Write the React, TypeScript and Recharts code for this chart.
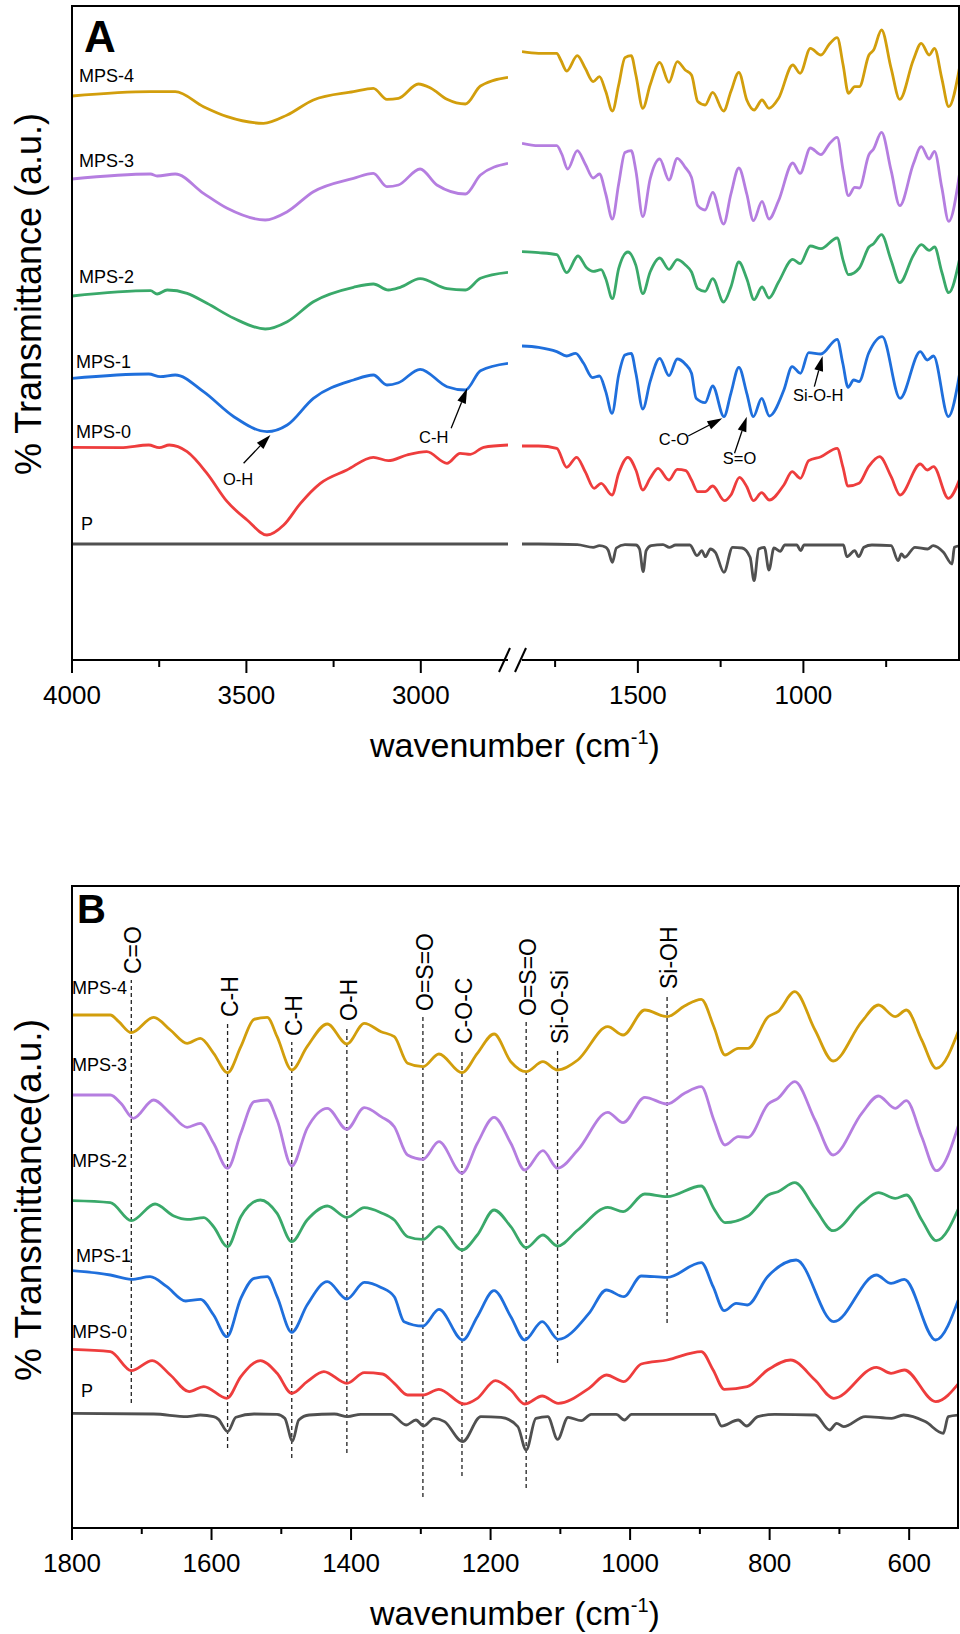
import React from "react";
import { Line, LineChart, ReferenceDot, ReferenceLine, XAxis, YAxis } from "recharts";

const FONT = "'Liberation Sans', Arial, Helvetica, sans-serif";

const sampleNames = ["MPS-4", "MPS-3", "MPS-2", "MPS-1", "MPS-0", "P"];
const sampleColors = ["#d29e0c", "#b57ee0", "#3aa96a", "#1f6fdc", "#ee3d3d", "#505050"];

// 4000-2750 cm-1, panel A only (a.u.)
const mps4High = [
  [4000, 564], [3775, 568.3], [3704, 568.3], [3623, 553.3], [3555, 543.3], [3451, 536.7],
  [3383, 545], [3308, 560], [3193, 568.3], [3136, 571.7], [3097, 560.7], [3064, 561.7],
  [3007, 576], [2972, 572], [2925, 560.7], [2872, 556], [2829, 574], [2750, 582.7],
];
const mps3High = [
  [4000, 481], [3775, 486], [3756, 484], [3704, 486], [3623, 466.7], [3555, 451.7],
  [3446, 440], [3383, 448.3], [3308, 468.3], [3193, 481.7], [3136, 486.7], [3097, 473.3],
  [3064, 475], [3002, 491], [2954, 475], [2872, 466], [2829, 485], [2750, 496.7],
];
const mps2High = [
  [4000, 364], [3775, 369.3], [3756, 366], [3727, 370], [3670, 366.7], [3613, 356.7],
  [3536, 341.7], [3446, 331], [3383, 338.3], [3308, 358.3], [3193, 372.7], [3136, 376],
  [3093, 370], [3059, 372.7], [3002, 381.3], [2925, 371.3], [2872, 370], [2829, 381.7], [2750, 387.7],
];
const mps1High = [
  [4000, 281.7], [3780, 286], [3747, 283.3], [3704, 285], [3623, 268.3], [3536, 243.3],
  [3441, 228.3], [3383, 235], [3308, 261.7], [3193, 280], [3136, 285], [3097, 275],
  [3064, 277.3], [3002, 290.7], [2925, 273.3], [2872, 270], [2829, 289.3], [2750, 296.7],
];
const mps0High = [
  [4000, 212.7], [3861, 212.3], [3780, 215], [3750, 212.3], [3721, 215], [3670, 208.3],
  [3613, 186.7], [3555, 158.3], [3498, 140], [3441, 125], [3393, 135], [3345, 156.7],
  [3288, 176.7], [3212, 190], [3136, 202.7], [3093, 199.3], [3040, 205], [2983, 208.3],
  [2925, 196.7], [2887, 206.7], [2858, 205.7], [2820, 212.7], [2750, 215],
];
const pHigh = [[4000, 116], [3500, 116], [3000, 116], [2750, 116]];
const highRegion = [mps4High, mps3High, mps2High, mps1High, mps0High, pHigh];

// 1850-530 cm-1, relative to the level at 1800 cm-1
const mps4Fp = [
  [1850, 1.6], [1800, 0], [1745, 0], [1733, -6.7], [1715, -17.7], [1683, -2.3], [1659, -15],
  [1635, -28.3], [1616, -23.3], [1597, -38.3], [1577, -57.7], [1558, -31.7], [1539, -4.3],
  [1520, -2.3], [1506, -21.7], [1485, -55], [1463, -31.7], [1434, -9], [1406, -29], [1381, -8.3],
  [1357, -16.7], [1338, -21.7], [1319, -48.3], [1297, -51.7], [1274, -39], [1241, -57.7],
  [1219, -38.3], [1195, -19], [1171, -46.7], [1149, -56.7], [1125, -46.7], [1104, -55],
  [1075, -45], [1032, -11.7], [1010, -20], [979, 5], [947, -1.7], [922, 9], [898, 15.7],
  [880, -11.7], [864, -40], [845, -33.3], [831, -33.3], [802, -1.7], [788, 3.3], [764, 23.3],
  [735, -15], [709, -46], [668, -6.7], [644, 10], [620, -1.7], [604, 5], [582, -25], [561, -53.3],
  [527, -11.7],
];
const mps3Fp = [
  [1850, 2.4], [1800, 0], [1745, 0], [1730, -8.3], [1712, -23.3], [1683, -5], [1659, -18.3],
  [1635, -32.3], [1616, -28.3], [1597, -48.3], [1577, -73.3], [1558, -38.3], [1539, -6.7],
  [1520, -5], [1506, -25], [1485, -71], [1463, -33.3], [1434, -13.3], [1406, -34.3], [1381, -12.7],
  [1357, -21.7], [1338, -31.7], [1319, -60], [1297, -64.3], [1274, -46.7], [1241, -78.3],
  [1219, -48.3], [1195, -22.3], [1171, -48.3], [1151, -75], [1125, -55.7], [1104, -73.3],
  [1075, -55], [1032, -17.3], [1010, -27.7], [979, -2.3], [947, -9], [922, 1.7], [898, 8.3],
  [880, -25], [864, -50], [845, -41.7], [831, -42.3], [802, -9], [788, -3.3], [764, 13.3],
  [735, -25], [709, -60], [668, -18.3], [644, -1], [620, -13.3], [604, -5.7], [582, -41.7],
  [561, -75.7], [527, -25],
];
const mps2Fp = [
  [1850, 1], [1800, 0], [1745, -2], [1715, -20], [1681, -3.3], [1654, -15.3], [1635, -18.7],
  [1611, -17], [1597, -26], [1577, -46], [1558, -16], [1530, 0.7], [1506, -12.7], [1485, -41],
  [1463, -19.3], [1434, -5.3], [1406, -16.7], [1381, -7], [1357, -12], [1338, -19.3], [1319, -36],
  [1297, -38.7], [1274, -26], [1241, -49.3], [1219, -34.3], [1195, -9.3], [1171, -26],
  [1149, -47], [1125, -34.3], [1104, -45.3], [1075, -29.3], [1032, -6.7], [1010, -11], [979, 6.7],
  [947, 4], [898, 14.7], [880, -7.7], [864, -22], [831, -15.3], [802, 5.7], [788, 9], [764, 18],
  [735, -7.7], [709, -30], [668, -2.7], [644, 8], [620, 2.3], [604, 5.7], [582, -19.3],
  [561, -40], [527, -4.3],
];
const mps1Fp = [
  [1850, 1.3], [1800, 0], [1745, -4.3], [1715, -8.7], [1688, -6], [1664, -16], [1637, -30.3],
  [1616, -28.7], [1597, -44.3], [1578, -66], [1558, -27.7], [1539, -7.7], [1520, -6], [1506, -26],
  [1485, -61.7], [1463, -34.3], [1434, -11], [1406, -28.3], [1381, -11.7], [1357, -16.7],
  [1338, -26], [1324, -51], [1297, -55.3], [1274, -38.7], [1240, -69.3], [1219, -46], [1195, -20],
  [1171, -46], [1151, -69.3], [1126, -51], [1103, -68.7], [1059, -42.7], [1034, -19.3],
  [1009, -26], [984, -5.3], [947, -6.7], [898, 8], [881, -16], [865, -40], [848, -32.7],
  [832, -34.3], [803, -6], [762, 10.7], [708, -51], [647, -4.3], [626, -12.7], [607, -8.7],
  [562, -69.3], [527, -24.3],
];
const mps0Fp = [
  [1850, 0], [1800, 0], [1745, -2.3], [1715, -21.3], [1685, -11.3], [1659, -25.7], [1632, -42.3],
  [1611, -37.3], [1578, -49], [1558, -27.3], [1530, -11.3], [1506, -24], [1485, -44], [1463, -32.3],
  [1439, -22.3], [1406, -34], [1381, -23.3], [1355, -24.7], [1338, -34], [1319, -45.7],
  [1297, -45.7], [1274, -40], [1238, -54.7], [1219, -49], [1193, -31.3], [1171, -40.7],
  [1151, -54.7], [1126, -46.7], [1103, -54], [1059, -39], [1034, -25.7], [1009, -32.3],
  [984, -14.7], [947, -10.7], [898, -2.3], [881, -20.7], [865, -40], [832, -37.3], [803, -20.7],
  [770, -10.7], [735, -30.7], [708, -49], [647, -18], [626, -24], [607, -20.7], [562, -52.3],
  [527, -32.3],
];
const pFp = [
  [1850, 0], [1800, 0], [1683, -0.7], [1635, -3.3], [1616, -1.7], [1597, -3.3], [1590, -6],
  [1577, -18.3], [1565, -4], [1539, -0.7], [1506, -1], [1495, -5], [1484, -27.7], [1475, -6.7],
  [1460, -1.7], [1424, -0.7], [1405, -3.3], [1386, -1], [1343, -1], [1321, -11.7], [1307, -6.7],
  [1296, -12.7], [1281, -5], [1266, -8.3], [1240, -28.3], [1214, -3.3], [1185, -4], [1161, -13.3],
  [1149, -36.7], [1135, -5], [1118, -3.3], [1104, -26], [1089, -4], [1070, -7.3], [1056, -1],
  [1020, -1], [1008, -6.7], [998, -1], [879, -1], [869, -12.7], [845, -6.7], [833, -12.7],
  [817, -3.3], [793, -1], [735, -1.7], [714, -16.7], [704, -10], [694, -13.3], [663, -3.3],
  [625, -5], [608, -1.7], [577, -8.3], [551, -20], [544, -3.3], [527, -1.7],
];
const fingerprint = [mps4Fp, mps3Fp, mps2Fp, mps1Fp, mps0Fp, pFp];

// vertical stacking of the traces in each panel
const offsetsA = [606.7, 514.3, 407.3, 312.7, 214, 116];
const offsetsB = [513, 433, 327.3, 257.3, 178.7, 114.7];

const ticksALeft = [4000, 3750, 3500, 3250, 3000];
const labelsALeft = [4000, 3500, 3000];
const ticksARight = [1750, 1500, 1250, 1000, 750];
const labelsARight = [1500, 1000];
const ticksB = [1800, 1700, 1600, 1500, 1400, 1300, 1200, 1100, 1000, 900, 800, 700, 600];
const labelsB = [1800, 1600, 1400, 1200, 1000, 800, 600];

const arrowsALeft = [
  { text: "O-H", from: [3508, 196.7], to: [3431, 225], at: [3524, 180.7] },
  { text: "C-H", from: [2913, 231.7], to: [2867, 271.7], at: [2963, 222.7] },
];
const arrowsARight = [
  { text: "C-O", from: [1348, 224], to: [1245, 241.7], at: [1391, 220.7] },
  { text: "S=O", from: [1208, 206.7], to: [1171, 243.3], at: [1193, 201.7] },
  { text: "Si-O-H", from: [967, 273.3], to: [942, 304], at: [955, 265] },
];

const bandsB = [
  { text: "C=O", wn: 1715, low: 125, high: 548 },
  { text: "C-H", wn: 1577, low: 80, high: 505 },
  { text: "C-H", wn: 1485, low: 70, high: 486 },
  { text: "O-H", wn: 1406, low: 75, high: 501 },
  { text: "O=S=O", wn: 1297, low: 31, high: 511 },
  { text: "C-O-C", wn: 1241, low: 52, high: 478 },
  { text: "O=S=O", wn: 1149, low: 40, high: 506 },
  { text: "Si-O-Si", wn: 1104, low: 165, high: 478 },
  { text: "Si-OH", wn: 947, low: 205, high: 533 },
];

const labelPosA = [[79, 82], [79, 167], [79, 283], [76, 368], [76, 438], [81, 530]];
const labelPosB = [[72, 994], [72, 1071], [72, 1167], [76, 1262], [72, 1338], [81, 1397]];

const toPoints = (pairs: number[][], offset: number) => pairs.map(([w, v]) => ({ w, v: v + offset }));

const axisStroke = { stroke: "#000", strokeWidth: 2 };

function renderTick(p: any, labels: number[], major: number, minor: number) {
  const isMajor = labels.includes(p.payload.value);
  return (
    <g key={`t-${p.payload.value}`}>
      <line x1={p.x} y1={p.y} x2={p.x} y2={p.y + (isMajor ? major : minor)} stroke="#000" strokeWidth={2} />
      {isMajor && (
        <text x={p.x} y={p.y + 44} textAnchor="middle" fontSize={26} fontFamily={FONT} fill="#000">
          {p.payload.value}
        </text>
      )}
    </g>
  );
}

function arrowShape(p: any) {
  const ang = Math.atan2(p.y2 - p.y1, p.x2 - p.x1);
  const c = Math.cos(ang);
  const s = Math.sin(ang);
  const bx = p.x2 - 15 * c;
  const by = p.y2 - 15 * s;
  const pts = `${p.x2},${p.y2} ${bx - 4.5 * s},${by + 4.5 * c} ${bx + 4.5 * s},${by - 4.5 * c}`;
  return (
    <g>
      <line x1={p.x1} y1={p.y1} x2={bx} y2={by} stroke="#000" strokeWidth={1.3} />
      <polygon points={pts} fill="#000" />
    </g>
  );
}

const textShape = (text: string, size: number) => (p: any) => (
  <text x={p.cx} y={p.cy} textAnchor="middle" dominantBaseline="central" fontSize={size} fontFamily={FONT} fill="#000">
    {text}
  </text>
);

const bandShape = (text: string) => (p: any) => {
  const top = Math.min(p.y1, p.y2);
  return (
    <g>
      <line x1={p.x1} y1={p.y1} x2={p.x2} y2={p.y2} stroke="#222" strokeWidth={1.3} strokeDasharray="4 3" />
      <text transform={`translate(${p.x1 + 10},${top - 6}) rotate(-90)`} fontSize={23} fontFamily={FONT} fill="#000">
        {text}
      </text>
    </g>
  );
};

export default function App() {
  const leftA = highRegion.map((s) => toPoints(s, 0));
  const rightA = fingerprint.map((s, i) => toPoints(s, offsetsA[i]));
  const panelB = fingerprint.map((s, i) => toPoints(s.filter(([w]) => w <= 1800), offsetsB[i]));

  const lines = (sets: { w: number; v: number }[][], prefix: string) =>
    sets.map((data, i) => (
      <Line
        key={`${prefix}-${sampleNames[i]}`}
        data={data}
        dataKey="v"
        type="monotone"
        stroke={sampleColors[i]}
        strokeWidth={2.8}
        dot={false}
        activeDot={false}
        isAnimationActive={false}
      />
    ));

  return (
    <div style={{ position: "absolute", left: 0, top: 0, width: 960, height: 1634, background: "#fff", fontFamily: FONT }}>
      {/* panel A, high wavenumber side */}
      <div style={{ position: "absolute", left: 0, top: 0 }}>
        <LineChart width={520} height={730} margin={{ top: 6, right: 12, bottom: 0, left: 72 }}>
          <XAxis
            dataKey="w"
            type="number"
            domain={[2750, 4000]}
            reversed
            allowDataOverflow
            ticks={ticksALeft}
            interval={0}
            tickLine={false}
            tickSize={0}
            tickMargin={0}
            tick={(p: any) => renderTick(p, labelsALeft, 13, 7)}
            axisLine={axisStroke}
            height={70}
          />
          <YAxis type="number" domain={[0, 654]} allowDataOverflow hide />
          {lines(leftA, "al")}
          {arrowsALeft.map((a) => (
            <ReferenceLine
              key={`arl-${a.text}`}
              segment={[{ x: a.from[0], y: a.from[1] }, { x: a.to[0], y: a.to[1] }]}
              shape={arrowShape}
            />
          ))}
          {arrowsALeft.map((a) => (
            <ReferenceDot key={`atl-${a.text}`} x={a.at[0]} y={a.at[1]} r={0} shape={textShape(a.text, 16.5)} />
          ))}
        </LineChart>
      </div>

      {/* panel A, fingerprint side */}
      <div style={{ position: "absolute", left: 508, top: 0 }}>
        <LineChart width={452} height={730} margin={{ top: 6, right: 1, bottom: 0, left: 14 }}>
          <XAxis
            dataKey="w"
            type="number"
            domain={[530, 1850]}
            reversed
            allowDataOverflow
            ticks={ticksARight}
            interval={0}
            tickLine={false}
            tickSize={0}
            tickMargin={0}
            tick={(p: any) => renderTick(p, labelsARight, 13, 7)}
            axisLine={axisStroke}
            height={70}
          />
          <YAxis type="number" domain={[0, 654]} allowDataOverflow hide />
          {lines(rightA, "ar")}
          {arrowsARight.map((a) => (
            <ReferenceLine
              key={`arr-${a.text}`}
              segment={[{ x: a.from[0], y: a.from[1] }, { x: a.to[0], y: a.to[1] }]}
              shape={arrowShape}
            />
          ))}
          {arrowsARight.map((a) => (
            <ReferenceDot key={`atr-${a.text}`} x={a.at[0]} y={a.at[1]} r={0} shape={textShape(a.text, 16.5)} />
          ))}
        </LineChart>
      </div>

      {/* panel B */}
      <div style={{ position: "absolute", left: 0, top: 880 }}>
        <LineChart width={960} height={720} margin={{ top: 6, right: 2, bottom: 0, left: 72 }}>
          <XAxis
            dataKey="w"
            type="number"
            domain={[530, 1800]}
            reversed
            allowDataOverflow
            ticks={ticksB}
            interval={0}
            tickLine={false}
            tickSize={0}
            tickMargin={0}
            tick={(p: any) => renderTick(p, labelsB, 12, 6)}
            axisLine={axisStroke}
            height={72}
          />
          <YAxis type="number" domain={[0, 642]} allowDataOverflow hide />
          {bandsB.map((b) => (
            <ReferenceLine
              key={`band-${b.wn}`}
              segment={[{ x: b.wn, y: b.low }, { x: b.wn, y: b.high }]}
              shape={bandShape(b.text)}
            />
          ))}
          {lines(panelB, "b")}
        </LineChart>
      </div>

      {/* frame, axis break, titles and trace names */}
      <svg width={960} height={1634} style={{ position: "absolute", left: 0, top: 0, pointerEvents: "none" }}>
        <line x1={71} y1={6} x2={960} y2={6} stroke="#000" strokeWidth={2} />
        <line x1={72} y1={5} x2={72} y2={661} stroke="#000" strokeWidth={2} />
        <line x1={959} y1={5} x2={959} y2={661} stroke="#000" strokeWidth={2} />
        <line x1={71} y1={886} x2={960} y2={886} stroke="#000" strokeWidth={2} />
        <line x1={72} y1={885} x2={72} y2={1529} stroke="#000" strokeWidth={2} />
        <line x1={958} y1={885} x2={958} y2={1529} stroke="#000" strokeWidth={2} />
        <rect x={509} y={655} width={12} height={10} fill="#fff" />
        <line x1={499} y1={672} x2={510} y2={648} stroke="#000" strokeWidth={2} />
        <line x1={515} y1={672} x2={526} y2={648} stroke="#000" strokeWidth={2} />

        <text x={84} y={52} fontSize={44} fontWeight="bold" fontFamily={FONT}>A</text>
        <text x={77} y={923} fontSize={40} fontWeight="bold" fontFamily={FONT}>B</text>

        {sampleNames.map((n, i) => (
          <text key={`la-${n}`} x={labelPosA[i][0]} y={labelPosA[i][1]} fontSize={18} fontFamily={FONT}>{n}</text>
        ))}
        {sampleNames.map((n, i) => (
          <text key={`lb-${n}`} x={labelPosB[i][0]} y={labelPosB[i][1]} fontSize={18} fontFamily={FONT}>{n}</text>
        ))}

        <text transform="translate(41,294) rotate(-90)" textAnchor="middle" fontSize={36} fontFamily={FONT}>
          % Transmittance (a.u.)
        </text>
        <text transform="translate(41,1200) rotate(-90)" textAnchor="middle" fontSize={37} fontFamily={FONT}>
          % Transmittance(a.u.)
        </text>

        <text x={515} y={757} textAnchor="middle" fontSize={34} fontFamily={FONT}>
          <tspan>wavenumber (cm</tspan>
          <tspan dy={-13} fontSize={20}>-1</tspan>
          <tspan dy={13}>)</tspan>
        </text>
        <text x={515} y={1625} textAnchor="middle" fontSize={34} fontFamily={FONT}>
          <tspan>wavenumber (cm</tspan>
          <tspan dy={-13} fontSize={20}>-1</tspan>
          <tspan dy={13}>)</tspan>
        </text>
      </svg>
    </div>
  );
}
